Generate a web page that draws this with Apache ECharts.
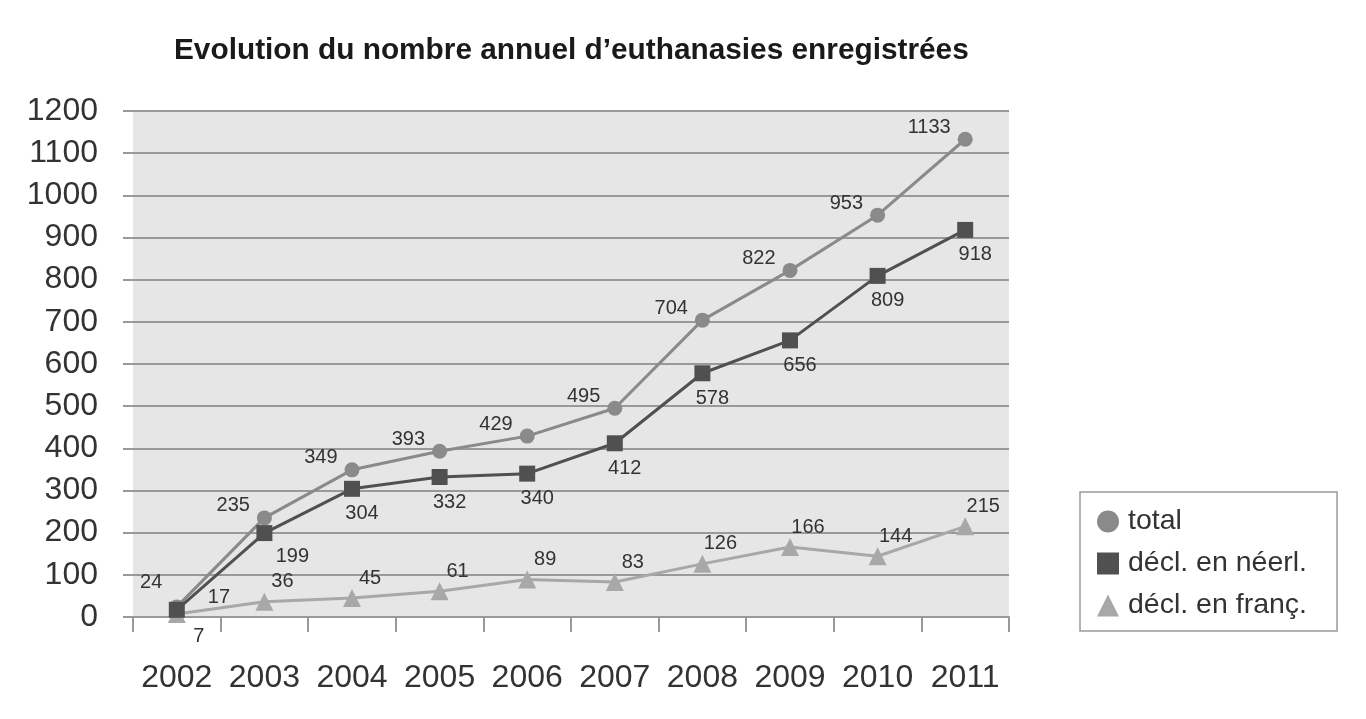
<!DOCTYPE html>
<html><head><meta charset="utf-8">
<script src="https://cdn.jsdelivr.net/npm/echarts@6/dist/echarts.min.js"></script>
<style>html,body{margin:0;padding:0;background:#fff}#c{width:1366px;height:719px}</style>
</head><body><div id="c"></div>
<script>
const years = ['2002','2003','2004','2005','2006','2007','2008','2009','2010','2011'];
const total = [24,235,349,393,429,495,704,822,953,1133];
const neerl = [17,199,304,332,340,412,578,656,809,918];
const franc = [7,36,45,61,89,83,126,166,144,215];
const yTicks = [0,100,200,300,400,500,600,700,800,900,1000,1100,1200];

const FONT = '"Liberation Sans", Arial, sans-serif';
const chart = echarts.init(document.getElementById('c'));
const lab = (pos, off, extra) => Object.assign({show:true, position:pos, offset:off, fontSize:20, color:'#333', fontFamily:FONT}, extra||{});
chart.setOption({
  backgroundColor:'#fff',
  animation:false,
  title:{text:'Evolution du nombre annuel d\u2019euthanasies enregistrées', left:169, top:31,
    textStyle:{fontSize:29.8, fontWeight:'bold', color:'#1a1a1a', fontFamily:FONT}},
  grid:{left:133, right:357, top:111, bottom:102, show:true, backgroundColor:'#e6e6e6', borderWidth:0},
  legend:{orient:'vertical', left:1080, top:492, padding:[15,30,11,17], itemGap:13,
    borderColor:'#9a9a9a', borderWidth:1.5, backgroundColor:'#fff',
    itemWidth:22, itemHeight:22,
    textStyle:{fontSize:28.5, color:'#333', fontFamily:FONT, padding:[0,0,0,4]},
    data:[{name:'total', icon:'circle'},{name:'décl. en néerl.', icon:'rect'},{name:'décl. en franç.', icon:'triangle'}]},
  xAxis:{type:'category', data:years, boundaryGap:true,
    axisLine:{lineStyle:{color:'#999', width:2}},
    axisTick:{show:true, interval:0, length:15, inside:false, lineStyle:{color:'#999', width:2}},
    axisLabel:{interval:0, fontSize:32, color:'#333', margin:45, fontFamily:FONT}},
  yAxis:{type:'value', min:0, max:1200, interval:100,
    axisLine:{show:false},
    axisTick:{show:true, length:10, lineStyle:{color:'#999', width:2}},
    splitLine:{lineStyle:{color:'#999', width:2}},
    axisLabel:{fontSize:32, color:'#333', margin:35, fontFamily:FONT,
      formatter:v => yTicks.includes(v) ? String(v) : ''}},
  series:[
    {name:'total', type:'line', data:total.map((v,i)=>i===0?{value:v,label:lab('left',[-2,-24])}:v), symbol:'circle', symbolSize:15,
     itemStyle:{color:'#8a8a8a'}, lineStyle:{color:'#8a8a8a', width:3},
     label:lab('left',[-2,-12]), z:3},
    {name:'décl. en néerl.', type:'line', data:neerl.map((v,i)=>i===0?{value:v,label:lab('right',[18,-12])}:(i===1?{value:v,label:lab('bottom',[28,0])}:v)), symbol:'rect', symbolSize:16,
     itemStyle:{color:'#505050'}, lineStyle:{color:'#505050', width:3},
     label:lab('bottom',[10,2]), z:4},
    {name:'décl. en franç.', type:'line', data:franc.map((v,i)=>i===0?{value:v,label:lab('bottom',[22,-2])}:v), symbol:'triangle', symbolSize:18,
     itemStyle:{color:'#a8a8a8'}, lineStyle:{color:'#a8a8a8', width:3},
     label:lab('top',[18,4]), z:2}
  ]
});
</script></body></html>
